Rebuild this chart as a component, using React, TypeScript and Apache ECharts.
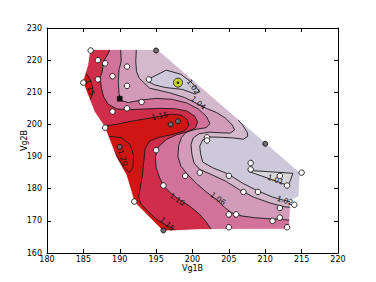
import React, { useEffect, useRef } from 'react';
import * as echarts from 'echarts';

type P = [number, number];

// Contour levels and band colours (band i lies between levels[i-1] and levels[i])
const levels = [1.01, 1.02, 1.04, 1.06, 1.10, 1.15, 1.20];
const bandColors = ['#d8d8da', '#cdc9da', '#d4b9cd', '#d39bba', '#d0729a', '#d02d4b', '#d01515', '#d01515'];

// Boundary of the interpolated domain
const hull: P[] = [
  [185.9, 223.3], [195.2, 223.3], [214.8, 185.0], [214.6, 177.5], [213.5, 176.5], [213.3, 167.4],
  [201.0, 167.3], [197.5, 166.9], [195.9, 166.9], [192.0, 175.9], [190.9, 184.2], [189.5, 189.9],
  [187.9, 199.3], [186.5, 204.0], [185.6, 209.2], [184.9, 213.3], [185.6, 218.5],
];

// Open contour lines (higher values lie on their lower-left side)
const line102: P[] = [
  [206.8, 201.6], [206.3, 201.3], [206.9, 199.8], [207.5, 197.6], [207.6, 196.3], [207.0, 195.4],
  [205.6, 195.8], [204.0, 196.0], [202.4, 196.1], [201.4, 195.2], [201.0, 193.2], [201.1, 191.0],
  [201.4, 188.3], [202.8, 186.5], [204.9, 184.6], [206.9, 181.7], [209.0, 179.3], [211.0, 177.4],
  [212.4, 176.5], [213.8, 175.7], [215.5, 175.3],
];
const line104: P[] = [
  [192.3, 224.5], [192.2, 219.6], [192.3, 216.5], [192.7, 214.3], [194.1, 211.3], [196.9, 209.8],
  [198.9, 208.4], [200.5, 206.6], [201.9, 205.0], [203.3, 203.7], [204.5, 202.0], [205.4, 200.0],
  [205.8, 198.3], [205.2, 197.3], [203.8, 197.4], [202.3, 197.6], [200.9, 197.1], [200.1, 195.8],
  [199.8, 193.8], [199.9, 191.0], [200.2, 188.0], [201.0, 186.0], [202.8, 184.2], [204.6, 182.3],
  [206.5, 179.6], [208.5, 177.3], [210.6, 175.6], [212.6, 174.4], [215.5, 173.8],
];
const line106: P[] = [
  [190.1, 224.5], [190.2, 219.6], [189.9, 217.0], [189.8, 213.3], [189.9, 209.5], [190.2, 207.4],
  [191.2, 206.8], [193.0, 207.6], [195.0, 208.1], [197.2, 207.8], [199.2, 206.7], [200.8, 204.8],
  [201.9, 202.5], [202.4, 200.3], [201.9, 199.0], [200.5, 198.5], [199.2, 197.7], [198.5, 196.0],
  [198.1, 193.5], [198.0, 190.0], [198.4, 187.0], [199.3, 184.5], [200.6, 181.5], [202.0, 178.8],
  [203.3, 176.7], [204.4, 174.2], [205.3, 172.6], [206.8, 171.5], [208.5, 171.0], [211.5, 170.5],
  [213.5, 170.2], [215.5, 170.1],
];
const line110: P[] = [
  [188.9, 224.5], [188.4, 222.0], [187.9, 220.1], [187.7, 218.5], [187.6, 216.5], [187.3, 214.4],
  [187.5, 211.0], [187.8, 208.5], [188.4, 206.3], [189.6, 204.8], [191.5, 204.6], [193.5, 204.8],
  [195.5, 205.0], [197.5, 204.9], [199.2, 204.2], [200.3, 202.6], [200.7, 200.8], [200.4, 198.9],
  [199.3, 197.7], [197.8, 196.8], [196.4, 195.3], [195.3, 193.0], [194.9, 190.0], [195.0, 186.5],
  [195.5, 183.3], [196.0, 181.0], [197.0, 178.6], [198.2, 176.6], [199.6, 174.6], [200.9, 172.2],
  [201.9, 169.6], [202.5, 167.6], [202.7, 165.0],
];
const line115: P[] = [
  [186.0, 199.2], [187.9, 199.5], [189.5, 200.0], [191.4, 200.9], [193.7, 201.8], [195.5, 202.5],
  [197.1, 203.2], [198.4, 202.9], [199.3, 201.5], [199.5, 199.6], [198.9, 198.0], [197.3, 196.9],
  [195.4, 196.0], [194.1, 194.8], [193.5, 192.6], [193.3, 188.5], [193.1, 184.0], [192.8, 180.0],
  [192.6, 177.5], [192.9, 175.3], [193.6, 173.6], [194.4, 171.8], [195.3, 170.1], [196.2, 168.8],
  [197.3, 167.6], [198.3, 166.0],
];
const line115b: P[] = [
  [184.3, 218.0], [185.2, 216.4], [185.8, 214.5], [186.2, 212.3], [186.3, 210.3], [186.1, 208.3],
  [185.6, 206.8], [184.5, 205.5],
];

// Closed contour loops
const loop101: P[] = [[207.7, 185.7], [213.8, 184.8], [213.2, 181.0], [207.7, 185.4]];
const loop102: P[] = [
  [193.6, 213.7], [196.4, 216.9], [198.4, 215.6], [199.8, 213.2], [201.0, 210.2], [200.3, 209.5],
  [198.6, 210.9], [196.2, 211.5], [194.8, 212.3],
];
const loop120: P[] = [
  [188.5, 196.3], [190.2, 195.9], [191.4, 193.8], [191.9, 190.5], [191.8, 186.5], [191.3, 185.0],
  [190.5, 186.8], [189.7, 189.8], [188.9, 193.0], [188.4, 195.2],
];

// Contour labels [text, x, y, angle]
const contourLabels: [string, number, number, number][] = [
  ['1.01', 211.4, 182.8, -0.35],
  ['1.02', 200.1, 211.7, -0.95],
  ['1.04', 200.8, 206.7, -0.7],
  ['1.15', 195.5, 202.6, 0.2],
  ['1.20', 190.4, 189.6, -1.25],
  ['1.15', 185.9, 211.5, -1.3],
  ['1.10', 197.9, 176.7, -0.6],
  ['1.06', 203.5, 176.9, -0.6],
  ['1.15', 196.5, 169.0, -0.75],
  ['1.02', 212.7, 176.3, -0.3],
];

// Measurement points
const whitePts: P[] = [
  [186, 223], [187, 220], [188, 219], [191, 218], [189, 215], [187, 214], [185, 213], [194, 214],
  [191, 212], [193, 207], [191, 205], [189, 204], [188, 199], [195, 192], [202, 196], [202, 195],
  [208, 188], [208, 186], [215, 185], [212, 184], [213, 181], [205, 184], [201, 185], [199, 184],
  [196, 181], [192, 176], [207, 179], [209, 179], [214, 175], [212, 174], [212, 171], [211, 170],
  [205, 172], [206, 172], [205, 168], [213, 168],
];
const grayPts: P[] = [[195, 223], [197, 200], [198, 201], [190, 193], [210, 194], [196, 167]];
const bestPt: P[] = [[198, 213]];
const startPt: P[] = [[190, 208]];

const X_MIN = 180, X_MAX = 220, Y_MIN = 160, Y_MAX = 230;

function closeRegion(line: P[], side: 'top' | 'left'): P[] {
  const s = line[0];
  const e = line[line.length - 1];
  if (side === 'top') {
    return [...line, [e[0], 150], [170, 150], [170, 240], [s[0], 240]];
  }
  return [...line, [170, e[1]], [170, s[1]]];
}

export default function App() {
  const ref = useRef<HTMLDivElement>(null);
  useEffect(() => {
    if (!ref.current) return;
    const chart = echarts.init(ref.current, undefined, { renderer: 'svg' });
    const font = 'DejaVu Sans';

    const regions: { pts: P[]; color: string }[] = [
      { pts: hull, color: bandColors[1] },
      { pts: closeRegion(line102, 'top'), color: bandColors[2] },
      { pts: closeRegion(line104, 'top'), color: bandColors[3] },
      { pts: closeRegion(line106, 'top'), color: bandColors[4] },
      { pts: closeRegion(line110, 'top'), color: bandColors[5] },
      { pts: closeRegion(line115, 'left'), color: bandColors[6] },
      { pts: closeRegion(line115b, 'left'), color: bandColors[6] },
      { pts: loop120, color: bandColors[7] },
      { pts: loop101, color: bandColors[0] },
      { pts: loop102, color: bandColors[1] },
    ];
    const openLines = [line102, line104, line106, line110, line115, line115b];
    const closedLines = [loop101, loop102, loop120];

    const mask: P[] = [
      [X_MIN, Y_MAX], ...hull, hull[0], [X_MIN, Y_MAX], [X_MIN, Y_MIN], [X_MAX, Y_MIN], [X_MAX, Y_MAX],
    ];

    const axisCommon = {
      type: 'value' as const,
      splitLine: { show: false },
      axisLine: { show: true, onZero: false, lineStyle: { color: '#000', width: 1 } },
      axisTick: { show: true, inside: true, length: 4, lineStyle: { color: '#000', width: 1 } },
      z: 10,
    };

    chart.setOption({
      animation: false,
      backgroundColor: '#fff',
      grid: { left: 47, top: 28, width: 291, height: 225 },
      xAxis: [
        {
          ...axisCommon, min: X_MIN, max: X_MAX, interval: 5, position: 'bottom',
          axisLabel: { color: '#000', fontSize: 8, fontFamily: font, margin: 2 },
          name: 'Vg1B', nameLocation: 'middle', nameGap: 11.5, nameMoveOverlap: false,
          nameTextStyle: { color: '#000', fontSize: 8, fontFamily: font },
        },
        {
          ...axisCommon, min: X_MIN, max: X_MAX, interval: 5, position: 'top',
          axisLabel: { show: false },
        },
      ],
      yAxis: [
        {
          ...axisCommon, min: Y_MIN, max: Y_MAX, interval: 10, position: 'left',
          axisLabel: { color: '#000', fontSize: 8, fontFamily: font, margin: 5 },
          name: 'Vg2B', nameLocation: 'middle', nameGap: 19, nameRotate: 90, nameMoveOverlap: false,
          nameTextStyle: { color: '#000', fontSize: 8, fontFamily: font },
        },
        {
          ...axisCommon, min: Y_MIN, max: Y_MAX, interval: 10, position: 'right',
          axisLabel: { show: false },
        },
      ],
      series: [
        {
          type: 'custom',
          xAxisIndex: 0,
          yAxisIndex: 0,
          z: 1,
          clip: true,
          data: [[X_MIN, Y_MIN]],
          renderItem: (_params: any, api: any) => {
            const c = (p: P) => api.coord(p);
            const children: any[] = [];
            regions.forEach((r) => {
              children.push({
                type: 'polygon',
                shape: { points: r.pts.map(c) },
                style: { fill: r.color, stroke: r.color, lineWidth: 0.3 },
              });
            });
            openLines.forEach((l) => {
              children.push({
                type: 'polyline',
                shape: { points: l.map(c) },
                style: { fill: null, stroke: '#1a1a1a', lineWidth: 0.9 },
              });
            });
            closedLines.forEach((l) => {
              children.push({
                type: 'polygon',
                shape: { points: l.map(c) },
                style: { fill: null, stroke: '#1a1a1a', lineWidth: 0.9 },
              });
            });
            children.push({
              type: 'polygon',
              shape: { points: mask.map(c) },
              style: { fill: '#fff', stroke: '#fff', lineWidth: 0.8 },
            });
            contourLabels.forEach(([t, x, y, a]) => {
              const p = c([x, y]);
              children.push({
                type: 'text',
                x: p[0],
                y: p[1],
                rotation: a,
                style: {
                  text: t, fill: '#111', fontSize: 7.5, fontFamily: font,
                  align: 'center', verticalAlign: 'middle',
                },
              });
            });
            return { type: 'group', children };
          },
        },
        {
          type: 'scatter', z: 3, data: whitePts, symbol: 'circle', symbolSize: 5.5,
          itemStyle: { color: '#fff', borderColor: '#000', borderWidth: 0.8, opacity: 1 },
        },
        {
          type: 'scatter', z: 3, data: grayPts, symbol: 'circle', symbolSize: 5,
          itemStyle: { color: '#6e6e6e', borderColor: '#000', borderWidth: 0.8, opacity: 1 },
        },
        {
          type: 'scatter', z: 4, data: startPt, symbol: 'rect', symbolSize: 5,
          itemStyle: { color: '#111', borderColor: '#000', borderWidth: 0.5, opacity: 1 },
        },
        {
          type: 'scatter', z: 4, data: bestPt, symbol: 'circle', symbolSize: 9,
          itemStyle: { color: '#c5d22a', borderColor: '#333', borderWidth: 1, opacity: 1 },
        },
        {
          type: 'scatter', z: 5, data: bestPt, symbol: 'circle', symbolSize: 2.5,
          itemStyle: { color: '#222', opacity: 1 },
        },
      ],
    });
    return () => chart.dispose();
  }, []);
  return (
    <div
      ref={ref}
      style={{ position: 'fixed', left: 0, top: 0, width: 376, height: 282, background: '#fff' }}
    />
  );
}
